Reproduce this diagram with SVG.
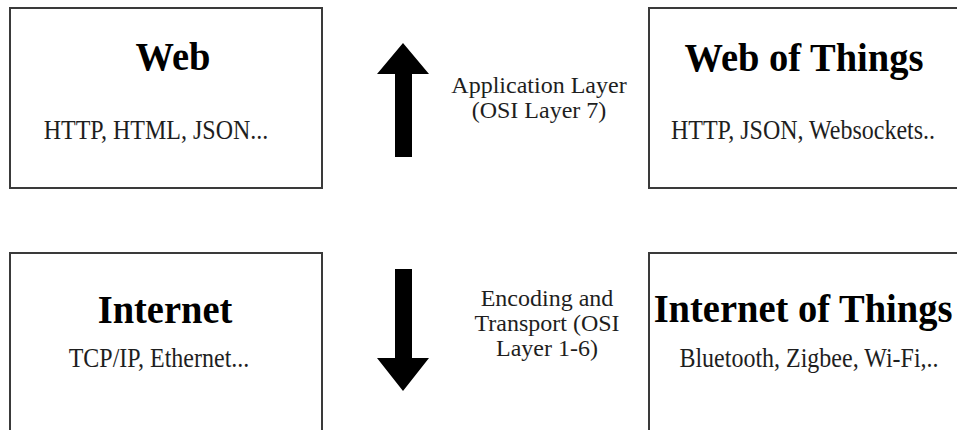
<svg xmlns="http://www.w3.org/2000/svg" width="957" height="430" viewBox="0 0 957 430">
<style>
.box{fill:#fff;stroke:#3a3a3a;stroke-width:2}
.title{font-family:"Liberation Serif","Times New Roman",serif;font-weight:bold;font-size:38.5px;fill:#000;text-anchor:middle}
.sub{font-family:"Liberation Serif","Times New Roman",serif;font-size:24px;fill:#1e1e1e;text-anchor:middle}
.lbl{font-family:"Liberation Serif","Times New Roman",serif;font-size:24px;fill:#1e1e1e;text-anchor:middle}
.arrow{fill:#000}
</style>
<rect width="957" height="430" fill="#fff"/>
<g id="web">
<rect class="box" x="10" y="8" width="312" height="180"/>
<text class="title" transform="translate(173,70) scale(1,1.05)">Web</text>
<text class="sub" transform="translate(156,139) scale(1,1.1)">HTTP, HTML, JSON...</text>
</g>
<g id="web-of-things">
<rect class="box" x="649" y="8" width="320" height="180"/>
<text class="title" transform="translate(804,71) scale(1,1.05)">Web of Things</text>
<text class="sub" transform="translate(803,139) scale(1,1.1)">HTTP, JSON, Websockets..</text>
</g>
<g id="internet">
<rect class="box" x="10" y="253" width="312" height="190"/>
<text class="title" transform="translate(165,323) scale(1,1.05)">Internet</text>
<text class="sub" transform="translate(159,367) scale(1,1.1)">TCP/IP, Ethernet...</text>
</g>
<g id="internet-of-things">
<rect class="box" x="649" y="253" width="320" height="190"/>
<text class="title" transform="translate(803,322) scale(1,1.05)">Internet of Things</text>
<text class="sub" transform="translate(809,367) scale(1,1.1)">Bluetooth, Zigbee, Wi-Fi,..</text>
</g>
<g id="connectors">
<polygon class="arrow" points="403,43 429,74 412,74 412,157 395,157 395,74 377,74"/>
<polygon class="arrow" points="403,391 429,358 412,358 412,269 395,269 395,358 377,358"/>
<text class="lbl" x="539" y="93">Application Layer</text>
<text class="lbl" x="539" y="118">(OSI Layer 7)</text>
<text class="lbl" x="547" y="306">Encoding and</text>
<text class="lbl" x="547" y="331">Transport (OSI</text>
<text class="lbl" x="547" y="356">Layer 1-6)</text>
</g>
</svg>
